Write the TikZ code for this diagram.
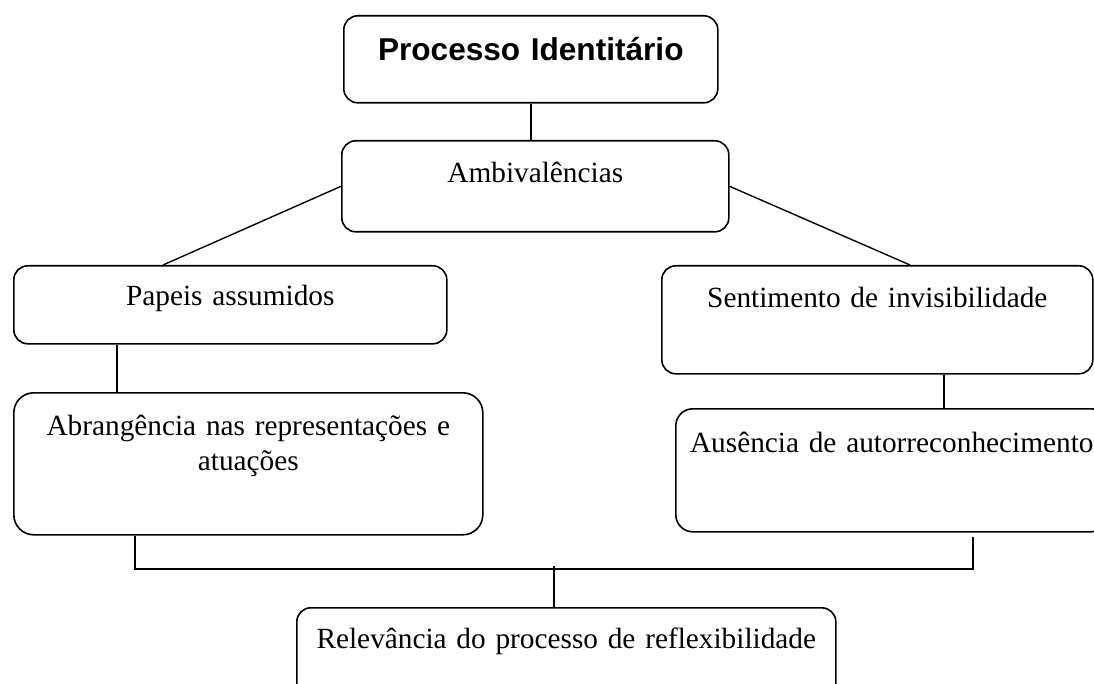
\documentclass[tikz,border=0pt]{standalone}
\usepackage{fontspec}
\setmainfont{Liberation Serif}
\newfontfamily\titlefont{Liberation Sans}
\usepackage{tikz}

\begin{document}
\begin{tikzpicture}[x=1pt, y=-1pt,
    box/.style={draw, line width=1.6pt, rounded corners=14pt, anchor=north west,
        inner sep=0pt, align=center, font=\fontsize{29.3}{35}\selectfont},
    link/.style={line width=1.4pt}]

    % Page frame
    \useasboundingbox (0,0) rectangle (1094,684);

    % Boxes
    \node[box, text width=374pt, text height=45pt, text depth=42pt,
        font=\titlefont\bfseries\fontsize{31.6}{38}\selectfont] (proc) at (343,15) {Processo Identitário};
    \node[box, text width=387pt, text height=42pt, text depth=49pt] (amb) at (341,140) {Ambivalências};
    \node[box, text width=433pt, text height=40pt, text depth=38pt] (pap) at (13,265) {Papeis assumidos};
    \node[box, text width=431pt, text height=42pt, text depth=66pt] (sent) at (661,265) {Sentimento de invisibilidade};
    \node[box, rounded corners=20pt, text width=469pt, text height=43pt, text depth=99pt] (abr) at (13,392)
        {Abrangência nas representações e\\ atuações};
    \node[box, rounded corners=17pt, text width=432pt, text height=44pt, text depth=79pt] (aus) at (675,408)
        {Ausência de autorreconhecimento};
    \node[box, text width=539pt, text height=41pt, text depth=72pt] (rel) at (296,607)
        {Relevância do processo de reflexibilidade};

    % Links
    \draw[link] (proc.south) -- (proc.south |- amb.north);
    \draw[link] (amb.west) -- ([xshift=150pt]pap.north west);
    \draw[link] (amb.east) -- ([xshift=249pt]sent.north west);
    \draw[link] ([xshift=104pt]pap.south west) -- ([xshift=104pt]abr.north west);
    \draw[link] ([xshift=283pt]sent.south west) -- ([xshift=269pt]aus.north west);

    % Bottom bracket
    \coordinate (bar) at (554,569);
    \draw[link] ([xshift=122pt]abr.south west) |- (bar) -| ([xshift=298pt,yshift=-4pt]aus.south west);
    \draw[link] ([yshift=3pt]bar) -- (bar |- rel.north);

\end{tikzpicture}
\end{document}
